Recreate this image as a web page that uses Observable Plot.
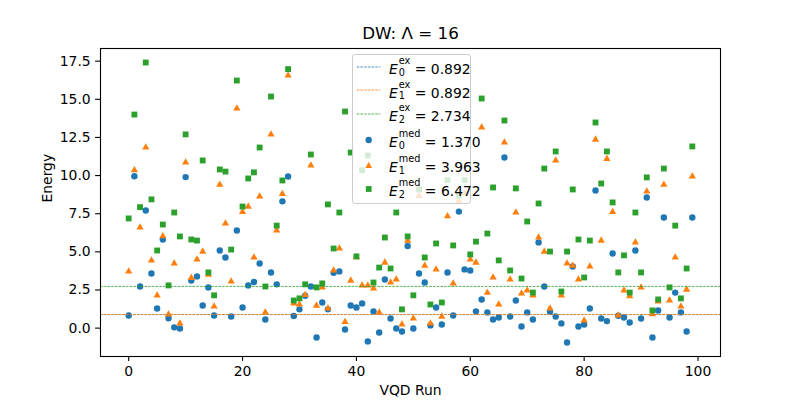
<!DOCTYPE html>
<html>
<head>
<meta charset="utf-8">
<script src="https://cdn.jsdelivr.net/npm/d3@7"></script>
<script src="https://cdn.jsdelivr.net/npm/@observablehq/plot@0.6"></script>
<style>
  body { margin: 0; background: white; }
  #wrap { position: relative; width: 800px; height: 400px; font-family: "DejaVu Sans"; }
  #legend {
    position: absolute; left: 352px; top: 54px; width: 117px; height: 148px;
    border: 1px solid #cccccc; border-radius: 3px; background: rgba(255,255,255,0.8);
  }
  .row { position: absolute; left: 0; height: 20px; display: flex; align-items: center; font-size: 13.9px; white-space: nowrap; }
  .scr { display: inline-block; vertical-align: -0.16em; font-size: 70%; line-height: 1.18em; margin-left: 1px; }
  .scr span { display: block; }
</style>
</head>
<body>
<div id="wrap">
  <div id="chart"></div>
  <div id="legend"></div>
</div>
<script>
// energies per VQD run
const runs = d3.range(100);
const e0 = [0.83, 9.96, 2.73, 7.71, 3.58, 1.29, 5.81, 0.65, 0.05, -0.02,
  9.90, 3.12, 3.39, 1.48, 2.67, 0.83, 5.09, 4.63, 0.76, 6.40,
  1.35, 2.80, 3.02, 4.24, 0.57, 3.65, 2.87, 8.31, 9.94, 0.79,
  1.23, 2.12, 2.73, -0.61, 1.68, 1.23, 3.63, 3.72, -0.09, 1.48,
  1.35, 1.62, -0.87, 1.10, -0.29, 3.19, 0.63, -0.02, -0.22, 5.38,
  -0.02, 3.58, 2.99, 0.18, 1.35, 0.24, 3.65, 0.83, 7.64, 3.85,
  3.78, 1.10, 1.88, 1.03, 0.57, 0.70, 11.18, 0.76, 1.81, 0.11,
  1.03, 0.57, 5.62, 2.73, 1.07, 0.76, 0.31, -0.94, 4.04, 0.11,
  0.24, 1.29, 9.02, 0.63, 0.46, 4.89, 0.81, 0.70, 0.37, 5.09,
  0.63, 8.56, -0.61, 1.16, 7.25, 0.70, 2.33, 1.03, -0.22, 7.25];
const e1 = [3.72, 10.35, 6.60, 11.84, 4.44, 2.15, 6.03, 0.90, 4.24, 0.31,
  10.86, 3.30, 4.50, 5.02, 3.50, 1.42, 9.41, 6.86, 3.06, 14.40,
  7.62, 7.97, 4.63, 8.63, 1.03, 12.70, 6.40, 8.80, 16.56, 1.62,
  1.55, 2.17, 10.66, 1.48, 2.67, 1.29, 3.78, 5.22, 0.41, 3.12,
  4.65, 2.80, 2.80, 2.60, 1.03, 4.30, 2.99, 3.19, 0.24, 5.74,
  0.63, 8.67, 4.10, 0.31, 3.85, 0.76, 7.34, 2.93, 8.34, 8.83,
  4.50, 4.30, 13.15, 2.33, 3.32, 1.55, 12.17, 3.19, 7.58, 2.27,
  2.47, 2.15, 5.94, 5.02, 1.29, 10.99, 2.15, 4.24, 4.10, 3.19,
  0.50, 4.04, 12.36, 5.74, 11.10, 7.62, 0.83, 2.47, 2.10, 5.62,
  2.67, 8.96, 0.92, 1.75, 9.41, 1.81, 4.63, 1.42, 2.53, 9.94];
const e2 = [7.19, 14.00, 7.93, 17.41, 8.44, 5.09, 6.79, 2.80, 7.58, 6.01,
  12.70, 5.81, 5.74, 10.99, 3.65, 2.15, 10.40, 10.26, 5.15, 16.23,
  7.97, 9.81, 10.21, 11.84, 2.73, 15.18, 6.72, 9.68, 16.98, 1.81,
  1.95, 2.87, 11.38, 2.67, 2.93, 8.11, 5.22, 7.58, 14.20, 11.51,
  4.70, 10.35, 11.32, 2.99, 3.97, 5.94, 3.91, 7.58, 1.23, 6.01,
  2.15, 9.09, 4.63, 1.55, 5.55, 1.68, 9.70, 5.42, 8.70, 9.70,
  4.83, 5.67, 15.05, 6.20, 9.22, 4.44, 13.61, 3.78, 9.16, 3.25,
  6.99, 2.33, 8.17, 10.46, 5.02, 11.58, 2.40, 5.02, 9.09, 5.81,
  3.32, 5.74, 13.48, 9.48, 11.58, 8.24, 3.65, 4.77, 2.33, 7.58,
  3.65, 9.88, 1.16, 1.88, 10.46, 2.67, 6.72, 1.95, 3.91, 11.91];

const exactE = [0.892, 0.892, 2.734];
const medianE = [1.370, 3.963, 6.472];
const colors = ["#1f77b4", "#ff7f0e", "#2ca02c"];
const symbols = ["circle", "triangle", "square"];
const sizes = [3.2, 2.7, 3.3];
const series = [e0, e1, e2];
const xTicks = [0, 20, 40, 60, 80, 100];
const yTicks = [0, 2.5, 5, 7.5, 10, 12.5, 15, 17.5];
const dash = "2.6,1.1";

const rows = runs.flatMap((r) => series.map((s, k) => ({ run: r, energy: s[r], level: k })));

const chart = Plot.plot({
  width: 800,
  height: 400,
  marginLeft: 100,
  marginRight: 80,
  marginTop: 48,
  marginBottom: 44,
  style: { fontFamily: "DejaVu Sans", fontSize: "13.9px", background: "white", color: "black", overflow: "visible" },
  x: { domain: [-4.95, 103.95] },
  y: { domain: [-1.86, 18.33] },
  marks: [
    ...series.map((s, k) =>
      Plot.dot(rows.filter((d) => d.level === k), {
        x: "run", y: "energy", symbol: symbols[k], r: sizes[k], fill: colors[k], stroke: null
      })
    ),
    ...exactE.map((v, k) =>
      Plot.ruleY([v], { stroke: colors[k], strokeWidth: 0.8, strokeDasharray: dash })
    ),
    Plot.frame({ stroke: "black", strokeWidth: 1.1 }),
    Plot.axisX({ ticks: xTicks, tickSize: 4.9, tickPadding: 4.9, tickFormat: "d", label: null, strokeWidth: 1.1 }),
    Plot.axisY({ ticks: yTicks, tickSize: 4.9, tickPadding: 4.9, tickFormat: ".1f", label: null, strokeWidth: 1.1 }),
    Plot.text(["VQD Run"], { frameAnchor: "bottom", lineAnchor: "middle", dy: 34 }),
    Plot.text(["Energy"], { frameAnchor: "left", rotate: -90, dx: -53 }),
    Plot.text(["DW: Λ = 16"], { frameAnchor: "top", lineAnchor: "middle", dy: -15, fontSize: 16.7 })
  ]
});
d3.select("#chart").append(() => chart);

// legend, drawn like matplotlib's
const legendRows = [
  ...exactE.map((v, k) => ({ sub: String(k), sup: "ex", val: v, kind: "line", k })),
  ...medianE.map((v, k) => ({ sub: String(k), sup: "med", val: v, kind: "marker", k }))
];
const centers = [11.5, 35, 58.5, 84.5, 109.5, 133.5];
const legend = d3.select("#legend");
legendRows.forEach((d, i) => {
  const row = legend.append("div").attr("class", "row").style("top", (centers[i] - 10) + "px");
  const svg = row.append("svg").attr("width", 36).attr("height", 20);
  const c = colors[d.k];
  if (d.kind === "line") {
    svg.append("line").attr("x1", 3.7).attr("x2", 27.3).attr("y1", 10).attr("y2", 10)
      .attr("stroke", c).attr("stroke-width", 0.8).attr("stroke-dasharray", dash);
  } else if (d.k === 0) {
    svg.append("circle").attr("cx", 15.7).attr("cy", 10).attr("r", 3.2).attr("fill", c);
  } else if (d.k === 1) {
    svg.append("path").attr("d", "M15.7,6.7L12.4,13.1L19,13.1Z").attr("fill", c);
  } else {
    svg.append("rect").attr("x", 12.8).attr("y", 7.1).attr("width", 5.8).attr("height", 5.8).attr("fill", c);
  }
  row.append("span").html(
    `<i>E</i><span class="scr"><span>${d.sup}</span><span>${d.sub}</span></span> = ${d.val.toFixed(3)}`
  );
});
</script>
</body>
</html>
